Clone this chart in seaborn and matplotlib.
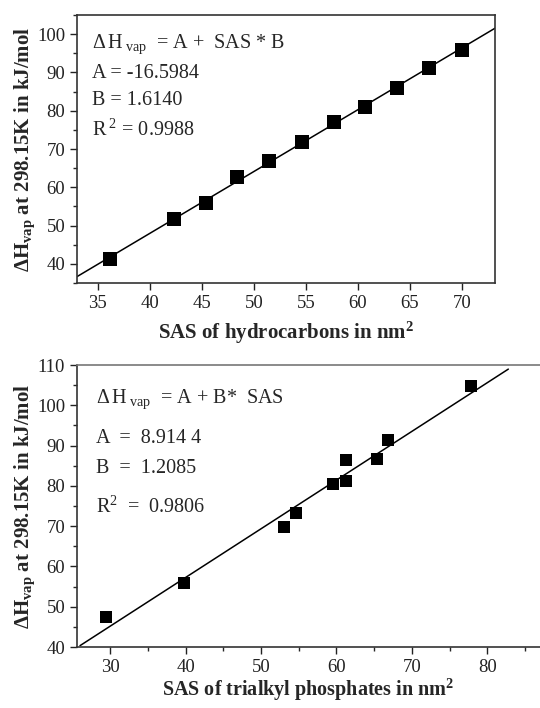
import numpy as np
import pandas as pd
import matplotlib
matplotlib.use("Agg")
import matplotlib.pyplot as plt
import seaborn as sns
from matplotlib.ticker import MultipleLocator

# hydrocarbons (top panel)
hc_sas = [36.2, 42.3, 45.4, 48.4, 51.5, 54.6, 57.7, 60.7, 63.8, 66.9, 70.0]
hc_dh = [41.3, 51.8, 55.8, 62.6, 66.9, 71.9, 77.0, 81.0, 85.9, 91.2, 95.9]
hc_A, hc_B, hc_R2 = -16.5984, 1.6140, 0.9988
hc_fit_range = [33.0, 73.2]

# trialkyl phosphates (bottom panel)
tap_sas = [29.5, 39.8, 53.0, 54.7, 59.6, 61.3, 61.3, 65.4, 66.9, 77.8]
tap_dh = [47.5, 55.8, 69.8, 73.2, 80.5, 86.4, 81.1, 86.7, 91.4, 104.8]
tap_A, tap_B, tap_R2 = 8.9144, 1.2085, 0.9806
tap_fit_range = [26.0, 82.8]

sns.set_style("ticks")
plt.rcParams['font.family'] = ['Liberation Serif', 'DejaVu Serif']
plt.rcParams['mathtext.fontset'] = 'custom'
plt.rcParams['mathtext.rm'] = 'Liberation Serif'
plt.rcParams['mathtext.it'] = 'Liberation Serif:italic'
plt.rcParams['mathtext.bf'] = 'Liberation Serif:bold'
plt.rcParams['xtick.direction'] = 'out'
plt.rcParams['ytick.direction'] = 'out'

fig = plt.figure(figsize=(5.4, 7.08), dpi=100)
ax1 = fig.add_axes([77 / 540, 1 - 283 / 708, 418 / 540, 268 / 708])
ax2 = fig.add_axes([77 / 540, 1 - 647 / 708, 463 / 540, 282 / 708])

ylab = r'$\mathbf{\Delta H}_{\mathbf{vap}}$' + ' at 298.15K in kJ/mol'


def draw_panel(ax, xs, ys, A, B, fit_range, msize):
    pts = pd.DataFrame({'sas': xs, 'dh': ys})
    fx = np.array(fit_range)
    fit = pd.DataFrame({'sas': fx, 'dh': A + B * fx})
    sns.lineplot(data=fit, x='sas', y='dh', ax=ax, color='black', lw=1.1)
    sns.scatterplot(data=pts, x='sas', y='dh', ax=ax, marker='s', s=msize,
                    color='black', edgecolor='black', linewidth=0, zorder=3)
    ax.set_ylabel(ylab, fontsize=15, fontweight='bold', labelpad=0)
    for sp in ax.spines.values():
        sp.set_color('#333333')
        sp.set_linewidth(1.2)
    ax.tick_params(which='major', length=5, width=1, labelsize=13.5, colors='#222222')
    ax.tick_params(which='minor', length=3, width=1)


# top panel
draw_panel(ax1, hc_sas, hc_dh, hc_A, hc_B, hc_fit_range, 90)
ax1.set_xlim(33.0, 73.2)
ax1.set_ylim(35, 105)
ax1.xaxis.set_major_locator(MultipleLocator(5))
ax1.yaxis.set_major_locator(MultipleLocator(10))
ax1.yaxis.set_minor_locator(MultipleLocator(5))
ax1.set_xlabel(r'SAS of hydrocarbons in nm$^{\mathbf{2}}$', fontsize=15, fontweight='bold', labelpad=6)

t1 = ax1.transAxes
fs = 14.5
ax1.text(0.035, 0.877, r'$\Delta\,\mathrm{H}_{\ \mathrm{vap}}$' + '  = A +  SAS * B', transform=t1, fontsize=fs)
ax1.text(0.035, 0.765, f'A = {hc_A:.4f}', transform=t1, fontsize=fs)
ax1.text(0.035, 0.664, f'B = {hc_B:.4f}', transform=t1, fontsize=fs)
ax1.text(0.035, 0.549, r'R$^{\ 2}$' + f' = {hc_R2:.4f}', transform=t1, fontsize=fs)

# bottom panel
draw_panel(ax2, tap_sas, tap_dh, tap_A, tap_B, tap_fit_range, 70)
ax2.set_xlim(25.6, 87.0)
ax2.set_ylim(40, 110)
ax2.xaxis.set_major_locator(MultipleLocator(10))
ax2.xaxis.set_minor_locator(MultipleLocator(5))
ax2.yaxis.set_major_locator(MultipleLocator(10))
ax2.yaxis.set_minor_locator(MultipleLocator(5))
ax2.spines['right'].set_visible(False)
ax2.spines['top'].set_color('#777777')
ax2.set_xlabel(r'SAS of trialkyl phosphates in nm$^{\mathbf{2}}$', fontsize=14.5, fontweight='bold', labelpad=1)

t2 = ax2.transAxes
ax2.text(0.04, 0.866, r'$\Delta\,\mathrm{H}_{\ \mathrm{vap}}$' + '  = A + B*  SAS', transform=t2, fontsize=fs)
ax2.text(0.04, 0.722, 'A  =  8.914 4', transform=t2, fontsize=fs)
ax2.text(0.04, 0.616, f'B  =  {tap_B:.4f}', transform=t2, fontsize=fs)
ax2.text(0.04, 0.475, r'R$^{2}$' + f'  =  {tap_R2:.4f}', transform=t2, fontsize=fs)

fig.savefig('out.png', dpi=100)
